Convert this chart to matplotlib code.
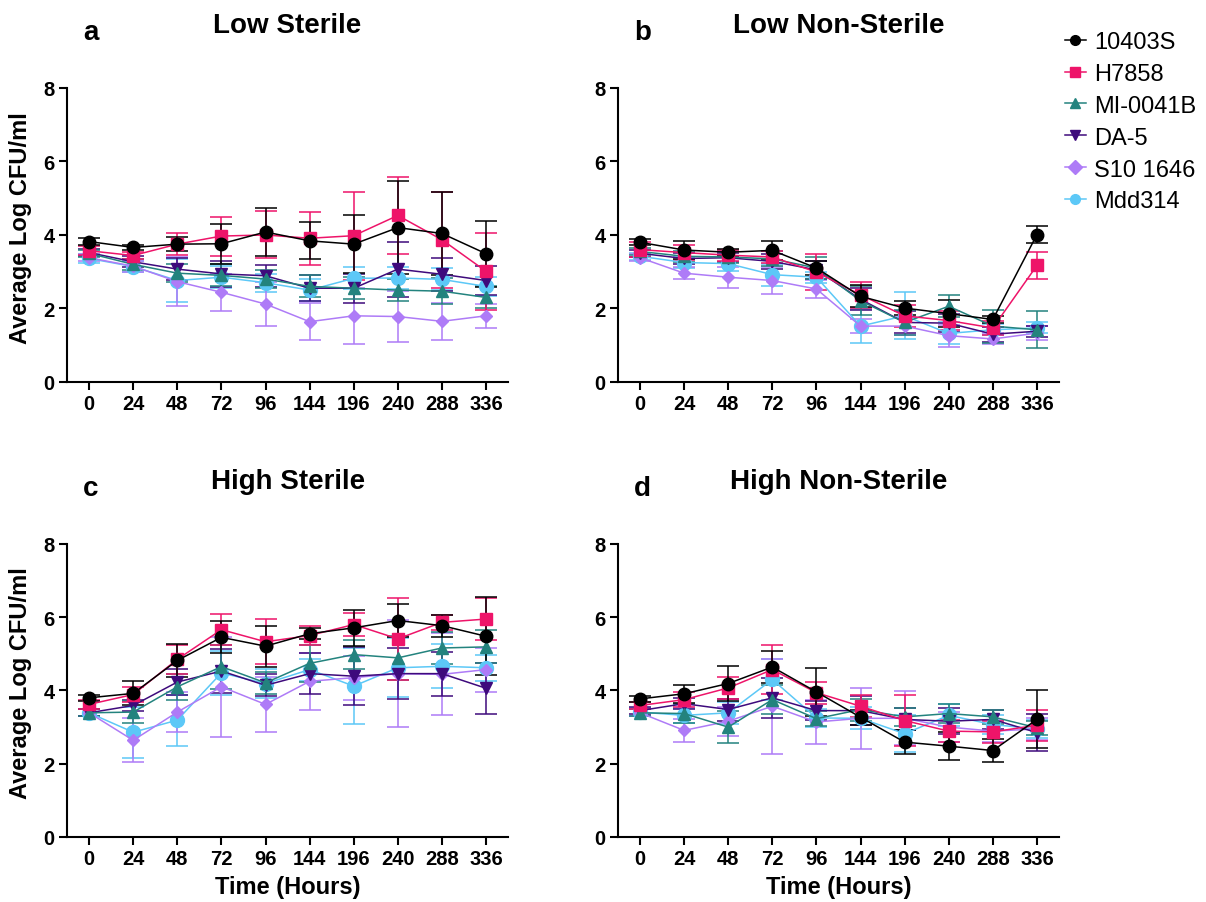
import matplotlib.pyplot as plt
from matplotlib.lines import Line2D
import numpy as np

plt.rcParams['font.family'] = ['Liberation Sans', 'DejaVu Sans']

# sampling times (hours), plotted as evenly spaced categories
times = ['0', '24', '48', '72', '96', '144', '196', '240', '288', '336']

strains = ['10403S', 'H7858', 'MI-0041B', 'DA-5', 'S10 1646', 'Mdd314']
colors = ['#000000', '#EE1469', '#23837E', '#3E0A7C', '#AE7BF7', '#5CC8F7']
markers = ['o', 's', '^', 'v', 'D', 'o']
msizes = [9, 8, 8, 8, 6, 10]

panel_titles = ['Low Sterile', 'Low Non-Sterile', 'High Sterile', 'High Non-Sterile']
panel_letters = ['a', 'b', 'c', 'd']

# mean log CFU/ml, one list per strain, per panel
low_sterile = [
    [3.82, 3.66, 3.75, 3.76, 4.08, 3.84, 3.75, 4.20, 4.04, 3.49],
    [3.57, 3.44, 3.75, 3.97, 4.00, 3.91, 3.98, 4.53, 3.87, 3.01],
    [3.50, 3.20, 2.96, 2.90, 2.80, 2.60, 2.55, 2.50, 2.47, 2.30],
    [3.52, 3.27, 3.07, 2.94, 2.89, 2.55, 2.55, 3.07, 2.93, 2.76],
    [3.38, 3.15, 2.73, 2.44, 2.12, 1.64, 1.80, 1.78, 1.65, 1.80],
    [3.36, 3.14, 2.76, 2.85, 2.70, 2.50, 2.82, 2.83, 2.79, 2.60],
]
low_sterile_err = [
    [0.10, 0.08, 0.20, 0.55, 0.64, 0.50, 0.78, 1.26, 1.13, 0.90],
    [0.12, 0.10, 0.30, 0.53, 0.64, 0.72, 1.20, 1.05, 1.30, 1.04],
    [0.10, 0.15, 0.25, 0.30, 0.25, 0.30, 0.30, 0.30, 0.35, 0.30],
    [0.10, 0.15, 0.30, 0.35, 0.30, 0.35, 0.40, 0.75, 0.45, 0.40],
    [0.10, 0.15, 0.67, 0.50, 0.60, 0.50, 0.77, 0.70, 0.50, 0.32],
    [0.12, 0.15, 0.58, 0.30, 0.25, 0.30, 0.30, 0.30, 0.30, 0.25],
]

low_nonsterile = [
    [3.80, 3.59, 3.53, 3.58, 3.10, 2.33, 2.01, 1.86, 1.70, 4.01],
    [3.60, 3.52, 3.45, 3.40, 2.99, 2.37, 1.80, 1.67, 1.47, 3.17],
    [3.55, 3.42, 3.40, 3.35, 3.10, 2.21, 1.62, 2.06, 1.52, 1.42],
    [3.50, 3.36, 3.38, 3.28, 3.05, 2.25, 1.62, 1.60, 1.30, 1.38],
    [3.38, 2.96, 2.85, 2.76, 2.53, 1.52, 1.52, 1.26, 1.17, 1.33],
    [3.42, 3.25, 3.22, 2.92, 2.85, 1.52, 1.80, 1.32, 1.42, 1.47],
]
low_nonsterile_err = [
    [0.08, 0.24, 0.10, 0.25, 0.20, 0.30, 0.20, 0.37, 0.10, 0.23],
    [0.20, 0.20, 0.15, 0.15, 0.50, 0.35, 0.30, 0.25, 0.20, 0.37],
    [0.10, 0.15, 0.15, 0.20, 0.30, 0.40, 0.35, 0.30, 0.45, 0.50],
    [0.10, 0.15, 0.12, 0.20, 0.25, 0.30, 0.30, 0.25, 0.20, 0.15],
    [0.10, 0.17, 0.28, 0.38, 0.25, 0.20, 0.25, 0.30, 0.15, 0.20],
    [0.10, 0.15, 0.20, 0.30, 0.15, 0.47, 0.64, 0.30, 0.15, 0.15],
]

high_sterile = [
    [3.80, 3.92, 4.82, 5.45, 5.21, 5.55, 5.71, 5.91, 5.77, 5.48],
    [3.62, 3.89, 4.85, 5.66, 5.33, 5.50, 5.80, 5.41, 5.86, 5.95],
    [3.39, 3.41, 4.10, 4.65, 4.21, 4.74, 4.98, 4.89, 5.16, 5.19],
    [3.39, 3.59, 4.23, 4.53, 4.14, 4.46, 4.39, 4.46, 4.46, 4.06],
    [3.39, 2.64, 3.41, 4.10, 3.62, 4.25, 4.35, 4.46, 4.44, 4.57],
    [3.39, 2.86, 3.19, 4.48, 4.19, 4.57, 4.12, 4.62, 4.66, 4.62],
]
high_sterile_err = [
    [0.08, 0.33, 0.46, 0.44, 0.56, 0.15, 0.50, 0.44, 0.30, 1.07],
    [0.12, 0.20, 0.40, 0.43, 0.62, 0.25, 0.32, 1.12, 0.20, 0.58],
    [0.10, 0.30, 0.35, 0.60, 0.30, 0.50, 0.40, 0.60, 0.45, 0.45],
    [0.10, 0.15, 0.35, 0.60, 0.30, 0.55, 0.80, 0.70, 0.60, 0.70],
    [0.10, 0.60, 0.55, 1.37, 0.75, 0.77, 0.60, 1.46, 1.12, 0.60],
    [0.10, 0.70, 0.70, 0.60, 0.40, 0.30, 1.03, 0.80, 0.60, 0.35],
]

high_nonsterile = [
    [3.77, 3.91, 4.19, 4.64, 3.96, 3.27, 2.59, 2.48, 2.36, 3.21],
    [3.59, 3.75, 4.07, 4.57, 3.94, 3.57, 3.18, 2.89, 2.87, 3.05],
    [3.39, 3.37, 3.00, 3.75, 3.23, 3.48, 3.28, 3.37, 3.28, 2.98],
    [3.45, 3.64, 3.48, 3.80, 3.45, 3.45, 3.21, 3.16, 3.21, 2.85],
    [3.39, 2.91, 3.16, 3.57, 3.14, 3.24, 3.24, 3.00, 2.89, 2.95],
    [3.41, 3.32, 3.39, 4.30, 3.25, 3.24, 2.82, 3.32, 3.07, 2.95],
]
high_nonsterile_err = [
    [0.08, 0.24, 0.47, 0.43, 0.66, 0.20, 0.32, 0.38, 0.31, 0.79],
    [0.10, 0.20, 0.30, 0.66, 0.30, 0.30, 0.70, 0.30, 0.30, 0.43],
    [0.10, 0.25, 0.43, 0.40, 0.20, 0.30, 0.25, 0.25, 0.20, 0.20],
    [0.10, 0.15, 0.30, 0.55, 0.25, 0.40, 0.30, 0.35, 0.25, 0.50],
    [0.10, 0.32, 0.40, 1.30, 0.60, 0.83, 0.74, 0.40, 0.30, 0.30],
    [0.10, 0.20, 0.30, 0.55, 0.25, 0.30, 0.50, 0.30, 0.25, 0.25],
]

panels = [
    (low_sterile, low_sterile_err),
    (low_nonsterile, low_nonsterile_err),
    (high_sterile, high_sterile_err),
    (high_nonsterile, high_nonsterile_err),
]

fig = plt.figure(figsize=(12.06, 9.03), dpi=100)

# axes boxes [left, bottom, width, height] in figure fractions
boxes = [
    [0.0556, 0.5759, 0.3657, 0.3256],
    [0.5124, 0.5759, 0.3657, 0.3256],
    [0.0556, 0.0720, 0.3657, 0.3245],
    [0.5124, 0.0720, 0.3657, 0.3245],
]

x = np.arange(len(times))
for p, (box, (means, errs)) in enumerate(zip(boxes, panels)):
    ax = fig.add_axes(box)
    # draw from last strain to first so 10403S ends up on top
    for i in reversed(range(len(strains))):
        ax.errorbar(x, means[i], yerr=errs[i], color=colors[i],
                    marker=markers[i], markersize=msizes[i], lw=1.1,
                    elinewidth=1.1, capsize=8, capthick=1.1)
    ax.set_xlim(-0.5, 9.5)
    ax.set_ylim(0, 8)
    ax.set_xticks(x)
    ax.set_xticklabels(times, fontsize=14.5, fontweight='bold')
    ax.set_yticks([0, 2, 4, 6, 8])
    ax.set_yticklabels(['0', '2', '4', '6', '8'], fontsize=14.5, fontweight='bold')
    ax.tick_params(width=1.5, length=6, pad=3)
    for s in ['top', 'right']:
        ax.spines[s].set_visible(False)
    for s in ['left', 'bottom']:
        ax.spines[s].set_linewidth(1.5)
    ax.set_title(panel_titles[p], fontsize=20, fontweight='bold', pad=40)
    ax.text(0.036, 1.167, panel_letters[p], transform=ax.transAxes,
            fontsize=20, fontweight='bold', ha='left', va='baseline')
    if p in (0, 2):
        ax.set_ylabel('Average Log CFU/ml', fontsize=17, fontweight='bold')
        ax.yaxis.set_label_coords(-0.079, 0.527)
    if p in (2, 3):
        ax.set_xlabel('Time (Hours)', fontsize=17, fontweight='bold')
        ax.xaxis.set_label_coords(0.5, -0.13)

handles = [Line2D([], [], color=c, marker=m, markersize=7, lw=1.1)
           for c, m in zip(colors, markers)]
fig.legend(handles, strains, loc='upper left', bbox_to_anchor=(0.869, 0.983),
           frameon=False, fontsize=17, handlelength=0.9, handletextpad=0.35,
           labelspacing=0.42, borderpad=0.2)

fig.savefig('out.png', dpi=100)
